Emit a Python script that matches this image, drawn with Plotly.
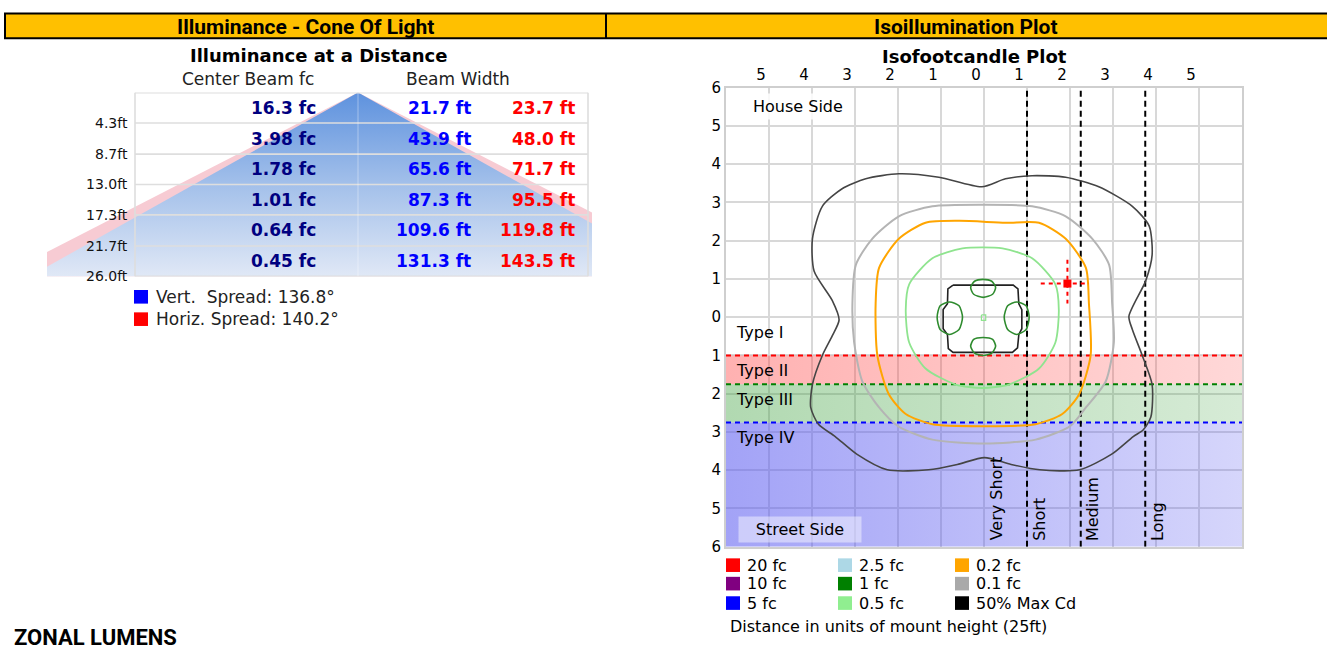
import plotly.graph_objects as go

W, H = 1327, 650
FONT = "DejaVu Sans, Verdana, sans-serif"
HEAD_FONT = "Roboto, Liberation Sans, sans-serif"

# ---------------- Cone of light data ----------------
distances_ft = [4.3, 8.7, 13.0, 17.3, 21.7, 26.0]
center_beam_fc = [16.3, 3.98, 1.78, 1.01, 0.64, 0.45]
vert_width_ft = [21.7, 43.9, 65.6, 87.3, 109.6, 131.3]
horiz_width_ft = [23.7, 48.0, 71.7, 95.5, 119.8, 143.5]
vert_spread = 136.8
horiz_spread = 140.2

# ---------------- Isofootcandle data (units of mount height) ----------------
x_ticks = [-5, -4, -3, -2, -1, 0, 1, 2, 3, 4, 5]
y_ticks = [-6, -5, -4, -3, -2, -1, 0, 1, 2, 3, 4, 5, 6]
zone_names = ["Type I", "Type II", "Type III", "Type IV"]
zone_bounds = [0.0, -1.0, -1.75, -2.75, -6.0]
class_names = ["Very Short", "Short", "Medium", "Long"]
class_bounds = [0.0, 1.0, 2.25, 3.75]

# outer contour (dark)
outer_x = [-0.05, 0.5, 1.12, 1.90, 2.67, 3.45, 3.84, 3.91, 3.76, 3.37, 3.45, 3.68, 3.91, 3.88, 3.70,
           3.47, 2.97, 2.22, 1.30, 0.63, 0.01, -0.62, -1.29, -2.25, -2.96, -3.46, -3.85, -4.03, -3.99,
           -3.76, -3.53, -3.37, -3.53, -3.95, -3.99, -3.76, -3.30, -2.75, -1.98, -1.05, -0.05]
outer_y = [3.41, 3.62, 3.70, 3.66, 3.41, 2.90, 2.39, 1.63, 0.95, 0.02, -0.32, -1.0, -1.76, -2.61, -2.95,
           -3.12, -3.58, -3.99, -3.99, -3.85, -3.67, -3.85, -3.99, -3.99, -3.58, -3.12, -2.80, -2.36, -1.76,
           -1.0, -0.49, -0.07, 0.44, 1.20, 2.05, 2.90, 3.36, 3.62, 3.75, 3.66, 3.41]
# 0.1 fc
gray_x = [0.0, 1.12, 1.90, 2.52, 2.91, 2.98, 3.02, 2.83, 2.37, 2.0, 1.2, 0.0, -1.2, -2.0, -2.44, -2.83,
          -3.02, -3.06, -2.98, -2.60, -1.98, -1.2, 0.0]
gray_y = [2.94, 2.90, 2.64, 2.05, 1.37, 0.36, -0.66, -1.68, -2.36, -2.85, -3.2, -3.3, -3.2, -2.85, -2.36,
          -1.68, -0.66, 0.36, 1.37, 2.05, 2.64, 2.90, 2.94]
# 0.2 fc
orange_x = [-0.58, 0.5, 1.28, 1.9, 2.37, 2.44, 2.48, 2.21, 1.82, 1.2, 0.0, -1.2, -1.82, -2.21, -2.48,
            -2.52, -2.44, -1.98, -1.36, -0.58]
orange_y = [2.52, 2.47, 2.47, 2.05, 1.29, 0.36, -1.0, -2.02, -2.53, -2.8, -2.85, -2.8, -2.53, -2.02,
            -1.0, 0.36, 1.29, 2.05, 2.47, 2.52]
# 0.5 fc
lgreen_x = [-0.5, 0.43, 1.12, 1.66, 1.74, 1.66, 1.28, 0.58, -0.04, -0.66, -1.36, -1.74, -1.82, -1.74, -1.2, -0.5]
lgreen_y = [1.80, 1.80, 1.54, 0.86, 0.19, -0.66, -1.34, -1.76, -1.85, -1.76, -1.34, -0.66, 0.19, 0.86, 1.54, 1.80]
# 50% max cd (inner)
inner_x = [-0.72, 0.68, 0.79, 0.81, 0.88, 0.88, 0.81, 0.78, 0.66, -0.72, -0.83, -0.85, -0.95, -0.95, -0.85, -0.84, -0.72]
inner_y = [0.84, 0.84, 0.74, 0.35, 0.20, -0.30, -0.45, -0.80, -0.92, -0.92, -0.82, -0.45, -0.30, 0.20, 0.35, 0.74, 0.84]
# 1 fc loops
green_top_x = [-0.31, -0.22, -0.02, 0.18, 0.27, 0.20, -0.02, -0.24, -0.31]
green_top_y = [0.78, 0.94, 0.99, 0.94, 0.78, 0.60, 0.52, 0.60, 0.78]
green_bot_x = [-0.31, -0.24, -0.02, 0.20, 0.27, 0.18, -0.02, -0.22, -0.31]
green_bot_y = [-0.76, -0.58, -0.53, -0.58, -0.76, -0.94, -1.0, -0.94, -0.76]
green_left_x = [-1.09, -1.02, -0.80, -0.58, -0.50, -0.58, -0.80, -1.02, -1.09]
green_left_y = [0.0, 0.30, 0.40, 0.30, 0.0, -0.32, -0.45, -0.32, 0.0]
green_right_x = [0.47, 0.55, 0.76, 0.98, 1.05, 0.98, 0.76, 0.55, 0.47]
green_right_y = [0.0, 0.30, 0.40, 0.30, 0.0, -0.32, -0.45, -0.32, 0.0]
center_sq_x = [-0.06, 0.04, 0.04, -0.06, -0.06]
center_sq_y = [0.06, 0.06, -0.08, -0.08, 0.06]
# max candela point
maxcd_x = 1.94
maxcd_y = 0.88

legend_labels = ["20 fc", "10 fc", "5 fc", "2.5 fc", "1 fc", "0.5 fc", "0.2 fc", "0.1 fc", "50% Max Cd"]
legend_colors = ["#ff0000", "#800080", "#0000ff", "#add8e6", "#008000", "#90ee90", "#ffa500", "#a9a9a9", "#000000"]


def px(v):
    return v / W


def py(v):
    return 1 - v / H


def note(x, y, text, size, color="#000", xanchor="center", yanchor="middle", xref="paper", yref="paper",
         family=FONT, **kw):
    if xref == "paper":
        x = px(x)
    if yref == "paper":
        y = py(y)
    return dict(xref=xref, yref=yref, x=x, y=y, text=text, showarrow=False, xanchor=xanchor,
                yanchor=yanchor, font=dict(family=family, size=size, color=color), **kw)


fig = go.Figure()

# ================= Cone of light =================
APEX_PX = 358
PX_PER_FT = 5.0
CONE_L, CONE_R, CONE_T, CONE_B = 47, 592, 86, 275
max_d = distances_ft[-1]
h_half = horiz_width_ft[-1] / 2
v_half = vert_width_ft[-1] / 2


def fx(p):
    return (p - APEX_PX) / PX_PER_FT


fig.add_trace(go.Scatter(
    x=[0, h_half, -h_half, 0], y=[0, max_d, max_d, 0], xaxis="x2", yaxis="y2",
    mode="none", fill="toself", fillcolor="#f7cbd3", hoverinfo="skip", showlegend=False))
fig.add_trace(go.Scatter(
    x=[0, v_half, -v_half, 0], y=[0, max_d, max_d, 0], xaxis="x2", yaxis="y2",
    mode="none", fill="toself",
    fillgradient=dict(type="vertical", colorscale=[[0, "#e0e8f6"], [0.5, "#a3c0ea"], [1, "#5e92de"]]),
    hoverinfo="skip", showlegend=False))

shapes = []
tab_l, tab_r = fx(135), fx(588)
for d in [0] + distances_ft:
    shapes.append(dict(type="line", xref="x2", yref="y2", x0=tab_l, x1=tab_r, y0=d, y1=d,
                       line=dict(color="#dedede", width=1.6), layer="above"))
for xx in (tab_l, tab_r):
    shapes.append(dict(type="line", xref="x2", yref="y2", x0=xx, x1=xx, y0=0, y1=max_d,
                       line=dict(color="#dedede", width=1.6), layer="above"))
shapes.append(dict(type="line", xref="x2", yref="y2", x0=0, x1=0, y0=0, y1=max_d,
                   line=dict(color="rgba(255,255,255,0.25)", width=1.5), layer="above"))

annotations = []
prev = 0.0
for d, fc, vw, hw in zip(distances_ft, center_beam_fc, vert_width_ft, horiz_width_ft):
    mid = (prev + d) / 2
    annotations.append(note(130, d, f"{d:.1f}ft", 14, "#111", xanchor="right", yref="y2"))
    annotations.append(note(fx(318), mid, f"<b>{fc:.3g} fc</b>", 17, "#000080", xanchor="right",
                            xref="x2", yref="y2"))
    annotations.append(note(fx(473), mid, f"<b>{vw:.1f} ft</b>", 17, "#0000ff", xanchor="right",
                            xref="x2", yref="y2"))
    annotations.append(note(fx(577), mid, f"<b>{hw:.1f} ft</b>", 17, "#ff0000", xanchor="right",
                            xref="x2", yref="y2"))
    prev = d

annotations += [
    note(318, 48, "<b>Illuminance at a Distance</b>", 18),
    note(248, 72, "Center Beam fc", 17, "#222"),
    note(458, 72, "Beam Width", 17, "#222"),
    note(154, 296, f"Vert.\u00a0 Spread: {vert_spread}°", 17, "#222", xanchor="left"),
    note(154, 319, f"Horiz. Spread: {horiz_spread}°", 17, "#222", xanchor="left"),
]
shapes.append(dict(type="rect", xref="paper", yref="paper", x0=px(134), x1=px(148), y0=py(303), y1=py(289),
                   fillcolor="#0000ff", line=dict(width=0)))
shapes.append(dict(type="rect", xref="paper", yref="paper", x0=px(134), x1=px(148), y0=py(326), y1=py(312),
                   fillcolor="#ff0000", line=dict(width=0)))

# ================= Isofootcandle plot =================
zone_colors = [None,
               ["rgba(255,60,60,0.40)", "rgba(255,60,60,0.20)"],
               ["rgba(60,160,60,0.40)", "rgba(60,160,60,0.21)"],
               ["rgba(90,90,240,0.56)", "rgba(90,90,240,0.25)"]]
zone_line = [None, "#ff0000", "#008000", "#0000ff"]
XMIN, XMAX = -6, 6
for i in range(1, 4):
    y0, y1 = zone_bounds[i], zone_bounds[i + 1]
    fig.add_trace(go.Scatter(
        x=[XMIN, XMAX, XMAX, XMIN, XMIN], y=[y0, y0, y1, y1, y0], mode="none", fill="toself",
        fillgradient=dict(type="horizontal", colorscale=[[0, zone_colors[i][0]], [1, zone_colors[i][1]]]),
        hoverinfo="skip", showlegend=False))
for i in range(1, 4):
    fig.add_trace(go.Scatter(x=[XMIN, XMAX], y=[zone_bounds[i]] * 2, mode="lines",
                             line=dict(color=zone_line[i], width=2, dash="5px,4px"),
                             hoverinfo="skip", showlegend=False))
for cb in class_bounds[1:]:
    fig.add_trace(go.Scatter(x=[cb, cb], y=[-6, 6], mode="lines",
                             line=dict(color="#000", width=2, dash="6px,4px"),
                             hoverinfo="skip", showlegend=False))


def contour(xs, ys, color, width, shape="spline"):
    fig.add_trace(go.Scatter(x=xs, y=ys, mode="lines",
                             line=dict(color=color, width=width, shape=shape, smoothing=0.7),
                             hoverinfo="skip", showlegend=False))


contour(outer_x, outer_y, "#454545", 1.6)
contour(gray_x, gray_y, "#b4b4b4", 2)
contour(orange_x, orange_y, "#ffa500", 2)
contour(lgreen_x, lgreen_y, "#8fe48f", 1.8)
contour(inner_x, inner_y, "#222222", 1.6, "linear")
for gx, gy in [(green_top_x, green_top_y), (green_bot_x, green_bot_y),
               (green_left_x, green_left_y), (green_right_x, green_right_y)]:
    contour(gx, gy, "#2e8b2e", 1.6)
contour(center_sq_x, center_sq_y, "#8fe48f", 1.2, "linear")

# max candela marker
fig.add_trace(go.Scatter(x=[maxcd_x - 0.62, maxcd_x + 0.5], y=[maxcd_y, maxcd_y], mode="lines",
                         line=dict(color="#ff0000", width=2, dash="4px,4px"), hoverinfo="skip", showlegend=False))
fig.add_trace(go.Scatter(x=[maxcd_x, maxcd_x], y=[maxcd_y + 0.62, maxcd_y - 0.52], mode="lines",
                         line=dict(color="#ff0000", width=2, dash="4px,4px"), hoverinfo="skip", showlegend=False))
fig.add_trace(go.Scatter(x=[maxcd_x], y=[maxcd_y], mode="markers",
                         marker=dict(symbol="square", size=8, color="#ff0000"), hoverinfo="skip", showlegend=False))

for name, ub in zip(zone_names, zone_bounds[:-1]):
    annotations.append(note(-5.82, ub - 0.4, name, 16, xanchor="left", xref="x", yref="y"))
for name, lb in zip(class_names, class_bounds):
    annotations.append(note(lb, -5.9, name, 16, xanchor="left", yanchor="bottom", xref="x", yref="y",
                            xshift=1, textangle=-90))
annotations += [
    note(-5.47, 5.52, "House Side", 16, xanchor="left", xref="x", yref="y", bgcolor="rgba(255,255,255,0.85)",
         borderpad=3),
    note(-4.28, -5.54, "Street Side", 16, xref="x", yref="y", bgcolor="rgba(255,255,255,0.45)",
         width=120, height=23),
    note(974, 49, "<b>Isofootcandle Plot</b>", 18),
    note(728, 635, "Distance in units of mount height (25ft)", 16, xanchor="left"),
]

leg_cols = [726, 838, 955]
leg_rows = [572, 591, 611]
for i, (lab, col) in enumerate(zip(legend_labels, legend_colors)):
    cx = leg_cols[i // 3]
    ry = leg_rows[i % 3]
    shapes.append(dict(type="rect", xref="paper", yref="paper", x0=px(cx), x1=px(cx + 14),
                       y0=py(ry + 7), y1=py(ry - 7), fillcolor=col, line=dict(width=0)))
    annotations.append(note(cx + 19, ry, lab, 16, xanchor="left"))

# ================= Header bar =================
shapes.append(dict(type="rect", xref="paper", yref="paper", x0=px(5), x1=px(1330), y0=py(30), y1=py(4.5),
                   fillcolor="#ffc000", line=dict(color="#000", width=2), layer="below"))
shapes.append(dict(type="line", xref="paper", yref="paper", x0=px(606), x1=px(606), y0=py(30), y1=py(4.5),
                   line=dict(color="#000", width=2)))
annotations += [
    note(305, 18, "<b>Illuminance - Cone Of Light</b>", 21, family=HEAD_FONT),
    note(966, 18, "<b>Isoillumination Plot</b>", 21, family=HEAD_FONT),
    note(12, 632, "<b>ZONAL LUMENS</b>", 22, xanchor="left", yanchor="top", family=HEAD_FONT),
]

tickfont = dict(family=FONT, size=15, color="#000")
fig.update_layout(
    width=W, height=H, margin=dict(l=0, r=0, t=0, b=0),
    paper_bgcolor="white", plot_bgcolor="white", hovermode=False, showlegend=False,
    xaxis=dict(domain=[px(726), px(1242)], range=[-6, 6], side="top", anchor="y",
               tickmode="array", tickvals=x_ticks, ticktext=[str(abs(v)) for v in x_ticks],
               showgrid=True, gridcolor="#d8d8d8", gridwidth=2, zeroline=False,
               showline=True, linecolor="#cfcfcf", linewidth=2, mirror=True,
               ticks="", ticklabelshift=-8, tickfont=tickfont, fixedrange=True),
    yaxis=dict(domain=[py(553), py(81)], range=[-6, 6], anchor="x",
               tickmode="array", tickvals=y_ticks, ticktext=[str(abs(v)) for v in y_ticks],
               showgrid=True, gridcolor="#d8d8d8", gridwidth=2, zeroline=False,
               showline=True, linecolor="#cfcfcf", linewidth=2, mirror=True,
               ticks="", tickfont=tickfont, fixedrange=True),
    xaxis2=dict(domain=[px(CONE_L), px(CONE_R)], range=[fx(CONE_L), fx(CONE_R)],
                anchor="y2", visible=False, fixedrange=True),
    yaxis2=dict(domain=[py(CONE_B), py(CONE_T)], range=[max_d, 0], anchor="x2",
                visible=False, fixedrange=True),
    shapes=shapes, annotations=annotations,
)

fig.write_html("out.html", config={"displayModeBar": False},
               post_script="document.body.style.margin='0px';")
